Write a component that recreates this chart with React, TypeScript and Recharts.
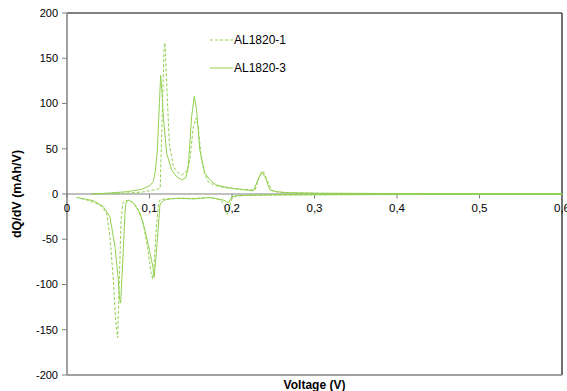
import React from "react";
import {
  LineChart,
  Line,
  XAxis,
  YAxis,
  ReferenceLine,
  ReferenceDot,
  Label,
} from "recharts";

const GREEN = "#92D050";
const FONT = "'Liberation Sans', Arial, sans-serif";

const vTicks = [0, 0.1, 0.2, 0.3, 0.4, 0.5, 0.6];
const yTicks = [-200, -150, -100, -50, 0, 50, 100, 150, 200];

// AL1820-1 (dashed) - discharge branch, high -> low voltage
const al1DisV = [0.6, 0.4, 0.3, 0.25, 0.215, 0.205, 0.2, 0.197, 0.194, 0.191, 0.187, 0.18, 0.17, 0.16, 0.15, 0.14, 0.13, 0.12, 0.113, 0.111, 0.108, 0.1055, 0.1038, 0.1015, 0.0986, 0.0925, 0.0845, 0.078, 0.074, 0.07, 0.068, 0.0655, 0.063, 0.0614, 0.059, 0.0562, 0.052, 0.048, 0.04, 0.024, 0.012];
const al1DisQ = [-0.5, -0.6, -0.8, -1, -1.5, -2.5, -5, -15, -23, -14, -7, -5, -4, -4.5, -5, -4.5, -5, -5.5, -6, -10, -40, -80, -94, -85, -65, -32, -14, -8, -7.4, -7.5, -8.5, -29, -110, -159, -140, -95, -47, -21, -12, -6.6, -3.7];
// AL1820-1 - charge branch
const al1ChV = [0.03, 0.05, 0.072, 0.09, 0.1, 0.108, 0.113, 0.1148, 0.1176, 0.1188, 0.1208, 0.124, 0.129, 0.134, 0.139, 0.145, 0.149, 0.153, 0.1564, 0.159, 0.163, 0.167, 0.171, 0.178, 0.185, 0.195, 0.206, 0.218, 0.228, 0.233, 0.238, 0.242, 0.248, 0.256, 0.27, 0.307, 0.4, 0.5, 0.6];
const al1ChQ = [0, 0.5, 1, 2, 3.6, 5, 6.3, 67, 159, 167, 122, 56, 30, 24, 21, 25, 37.6, 74, 84, 74, 37.6, 22, 13.6, 10, 8, 6.5, 5.5, 5, 4.4, 19, 24.6, 17, 3.6, 2, 1.2, 0.8, 0.5, 0.5, 0.5];

// AL1820-3 (solid) - discharge branch
const al3DisV = [0.6, 0.4, 0.3, 0.25, 0.215, 0.205, 0.2, 0.198, 0.196, 0.193, 0.189, 0.18, 0.173, 0.163, 0.153, 0.143, 0.133, 0.125, 0.119, 0.117, 0.1145, 0.1127, 0.1095, 0.1057, 0.104, 0.1006, 0.0945, 0.0885, 0.0804, 0.0743, 0.0715, 0.0703, 0.0675, 0.065, 0.0635, 0.0622, 0.0582, 0.052, 0.044, 0.032, 0.0117];
const al3DisQ = [-0.5, -0.6, -0.8, -1, -1.5, -2, -3, -6, -10, -8, -6.6, -5, -3.7, -4.8, -5.5, -5, -4.8, -5.5, -6.5, -7.4, -9, -12, -51, -92, -80, -65, -40, -21, -10, -6.6, -10, -21, -76, -120.5, -115, -95, -58, -25, -14, -7.4, -3.7];
// AL1820-3 - charge branch
const al3ChV = [0.03, 0.05, 0.072, 0.09, 0.1, 0.1046, 0.107, 0.1095, 0.112, 0.1135, 0.115, 0.1168, 0.1208, 0.1269, 0.133, 0.139, 0.144, 0.147, 0.151, 0.1543, 0.157, 0.161, 0.167, 0.174, 0.181, 0.19, 0.2016, 0.215, 0.226, 0.232, 0.236, 0.24, 0.246, 0.255, 0.266, 0.307, 0.4, 0.5, 0.6];
const al3ChQ = [0, 1, 2.5, 5, 9, 13.6, 25, 48.6, 100, 131, 115, 85, 45, 26.5, 19, 15.5, 18, 30, 85, 108, 93, 48.6, 23, 15, 10, 8, 6.3, 4.5, 3.7, 17, 24.6, 19, 4.4, 2.5, 1.5, 0.8, 0.5, 0.5, 0.5];

const zip = (v: number[], q: number[]) => v.map((x, i) => ({ v: x, q: q[i] }));

const legendItems = [
  { name: "AL1820-1", dash: "3 2" },
  { name: "AL1820-3", dash: undefined },
];

const renderYLabel = (props: any) => {
  const { viewBox } = props;
  const cx = viewBox.x + 17;
  const cy = viewBox.y + viewBox.height / 2;
  return (
    <text
      x={cx}
      y={cy}
      transform={`rotate(-90 ${cx} ${cy})`}
      textAnchor="middle"
      dominantBaseline="central"
      fontFamily={FONT}
      fontSize={12.5}
      fontWeight="bold"
      fill="#000"
    >
      dQ/dV (mAh/V)
    </text>
  );
};

export default function App() {
  return (
    <div style={{ position: "absolute", left: 0, top: 0, width: 567, height: 391, background: "#fff" }}>
      <LineChart width={567} height={391} margin={{ top: 13, right: 5, bottom: 0, left: 0 }}>
        <XAxis
          type="number"
          dataKey="v"
          domain={[0, 0.6]}
          ticks={vTicks}
          tick={false}
          tickLine={false}
          height={16}
          axisLine={{ stroke: "#808080", strokeWidth: 1.5 }}
        >
          <Label
            value="Voltage (V)"
            position="insideBottom"
            offset={2}
            style={{ fontFamily: FONT, fontSize: 12, fontWeight: "bold", fill: "#000" }}
          />
        </XAxis>
        <YAxis
          type="number"
          domain={[-200, 200]}
          ticks={yTicks}
          width={67}
          tickSize={5}
          tickMargin={4}
          axisLine={{ stroke: "#808080", strokeWidth: 1.5 }}
          tickLine={{ stroke: "#808080" }}
          tick={{ fontFamily: FONT, fontSize: 11, fill: "#000" }}
        >
          <Label content={renderYLabel} />
        </YAxis>
        <ReferenceLine y={200} stroke="#000" strokeWidth={1} />
        <ReferenceLine x={0.6} stroke="#404040" strokeWidth={1.5} />
        <ReferenceLine y={0} stroke="#808080" strokeWidth={1.2} />
        {vTicks.map((t) => (
          <ReferenceLine
            key={"tk" + t}
            segment={[
              { x: t, y: 0 },
              { x: t, y: -5 },
            ]}
            stroke="#808080"
          />
        ))}
        {vTicks.map((t) => (
          <ReferenceDot
            key={"lb" + t}
            x={t}
            y={0}
            r={0}
            stroke="none"
            fill="none"
            label={{
              value: String(t).replace(".", ","),
              position: "bottom",
              offset: 10,
              style: { fontFamily: FONT, fontSize: 11.5, fill: "#000" },
            }}
          />
        ))}
        <Line data={zip(al1DisV, al1DisQ)} dataKey="q" type="linear" stroke={GREEN} strokeDasharray="3 2" dot={false} isAnimationActive={false} />
        <Line data={zip(al1ChV, al1ChQ)} dataKey="q" type="linear" stroke={GREEN} strokeDasharray="3 2" dot={false} isAnimationActive={false} />
        <Line data={zip(al3DisV, al3DisQ)} dataKey="q" type="linear" stroke={GREEN} dot={false} isAnimationActive={false} />
        <Line data={zip(al3ChV, al3ChQ)} dataKey="q" type="linear" stroke={GREEN} dot={false} isAnimationActive={false} />
      </LineChart>
      <div style={{ position: "absolute", left: 210, top: 26, fontFamily: FONT, fontSize: 12, color: "#000" }}>
        {legendItems.map((it) => (
          <div key={it.name} style={{ display: "flex", alignItems: "center", height: 28 }}>
            <svg width={24} height={4}>
              <line x1={0} y1={2} x2={23} y2={2} stroke={GREEN} strokeDasharray={it.dash} />
            </svg>
            <span>{it.name}</span>
          </div>
        ))}
      </div>
    </div>
  );
}
